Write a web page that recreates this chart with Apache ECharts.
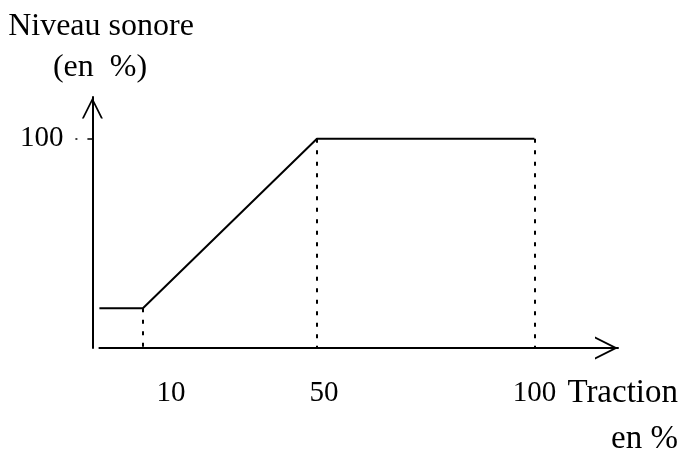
<!DOCTYPE html>
<html>
<head>
<meta charset="utf-8">
<script src="https://cdn.jsdelivr.net/npm/echarts@6/dist/echarts.min.js"></script>
<style>html,body{margin:0;padding:0;background:#fff}#c{width:683px;height:449px}</style>
</head>
<body>
<div id="c"></div>
<script>
// Data
const tractionX = [0, 10, 50, 100];
const niveau = [19, 19, 100, 100];
const xTickLabels = [10, 50, 100];
const yTickLabels = [100];
const dashedAt = [10, 50, 100];
const yTitle = ['Niveau sonore', '(en  %)'];
const xTitle = ['Traction', 'en %'];

const FONT = 'Liberation Serif';
const FS = 29;
const TFS = 32;
const chevron = 'path://M0,22 L11,0 L22,22 L20,22 L11,4 L2,22 Z';

const points = tractionX.map((x, i) => [x, niveau[i]]);
const dashedLines = dashedAt.map(x => {
  const idx = tractionX.indexOf(x);
  return [{coord: [x, niveau[idx]]}, {coord: [x, 0]}];
});

const chart = echarts.init(document.getElementById('c'), null, {renderer: 'canvas'});
chart.setOption({
  backgroundColor: '#fff',
  animation: false,
  grid: {left: 99.4, right: 65, top: 97, bottom: 101, containLabel: false},
  xAxis: {
    type: 'value', min: 0, max: 119.2,
    splitLine: {show: false},
    axisLine: {show: true, onZero: false, lineStyle: {color: '#000', width: 2},
      symbol: ['none', chevron], symbolSize: [24, 23], symbolOffset: [0, -11.5]},
    axisTick: {show: false},
    axisLabel: {
      customValues: xTickLabels,
      margin: 31,
      color: '#000', fontFamily: FONT, fontSize: FS,
      formatter: v => v === 10 ? '{a|10}' : (v === 50 ? '{b|50}' : String(v)),
      rich: {
        a: {fontFamily: FONT, fontSize: FS, color: '#000', padding: [0, 0, 0, 56]},
        b: {fontFamily: FONT, fontSize: FS, color: '#000', padding: [0, 0, 0, 14]}
      }
    }
  },
  yAxis: {
    type: 'value', min: 0, max: 120, offset: 7,
    splitLine: {show: false},
    axisLine: {show: true, onZero: false, lineStyle: {color: '#000', width: 2},
      symbol: ['none', chevron], symbolSize: [21, 22], symbolOffset: [0, -11]},
    axisTick: {show: true, customValues: yTickLabels, length: 17,
      lineStyle: {color: '#000', width: 1.5, type: [5, 10]}},
    axisLabel: {customValues: yTickLabels, margin: 29, color: '#000', fontFamily: FONT, fontSize: FS}
  },
  graphic: [
    {type: 'text', x: 101, y: 27, style: {text: yTitle[0], font: TFS + 'px "' + FONT + '"', fill: '#000', textAlign: 'center', textVerticalAlign: 'middle'}},
    {type: 'text', x: 100, y: 68, style: {text: yTitle[1], font: TFS + 'px "' + FONT + '"', fill: '#000', textAlign: 'center', textVerticalAlign: 'middle'}},
    {type: 'text', x: 678, y: 393, style: {text: xTitle[0], font: '33px "' + FONT + '"', fill: '#000', textAlign: 'right', textVerticalAlign: 'middle'}},
    {type: 'text', x: 678, y: 439, style: {text: xTitle[1], font: '33px "' + FONT + '"', fill: '#000', textAlign: 'right', textVerticalAlign: 'middle'}}
  ],
  series: [{
    type: 'line',
    data: points,
    symbol: 'none',
    lineStyle: {color: '#000', width: 2},
    markLine: {
      silent: true, symbol: ['none', 'none'],
      label: {show: false},
      lineStyle: {color: '#000', width: 2, type: [4, 7.5]},
      data: dashedLines
    }
  }]
});
</script>
</body>
</html>
